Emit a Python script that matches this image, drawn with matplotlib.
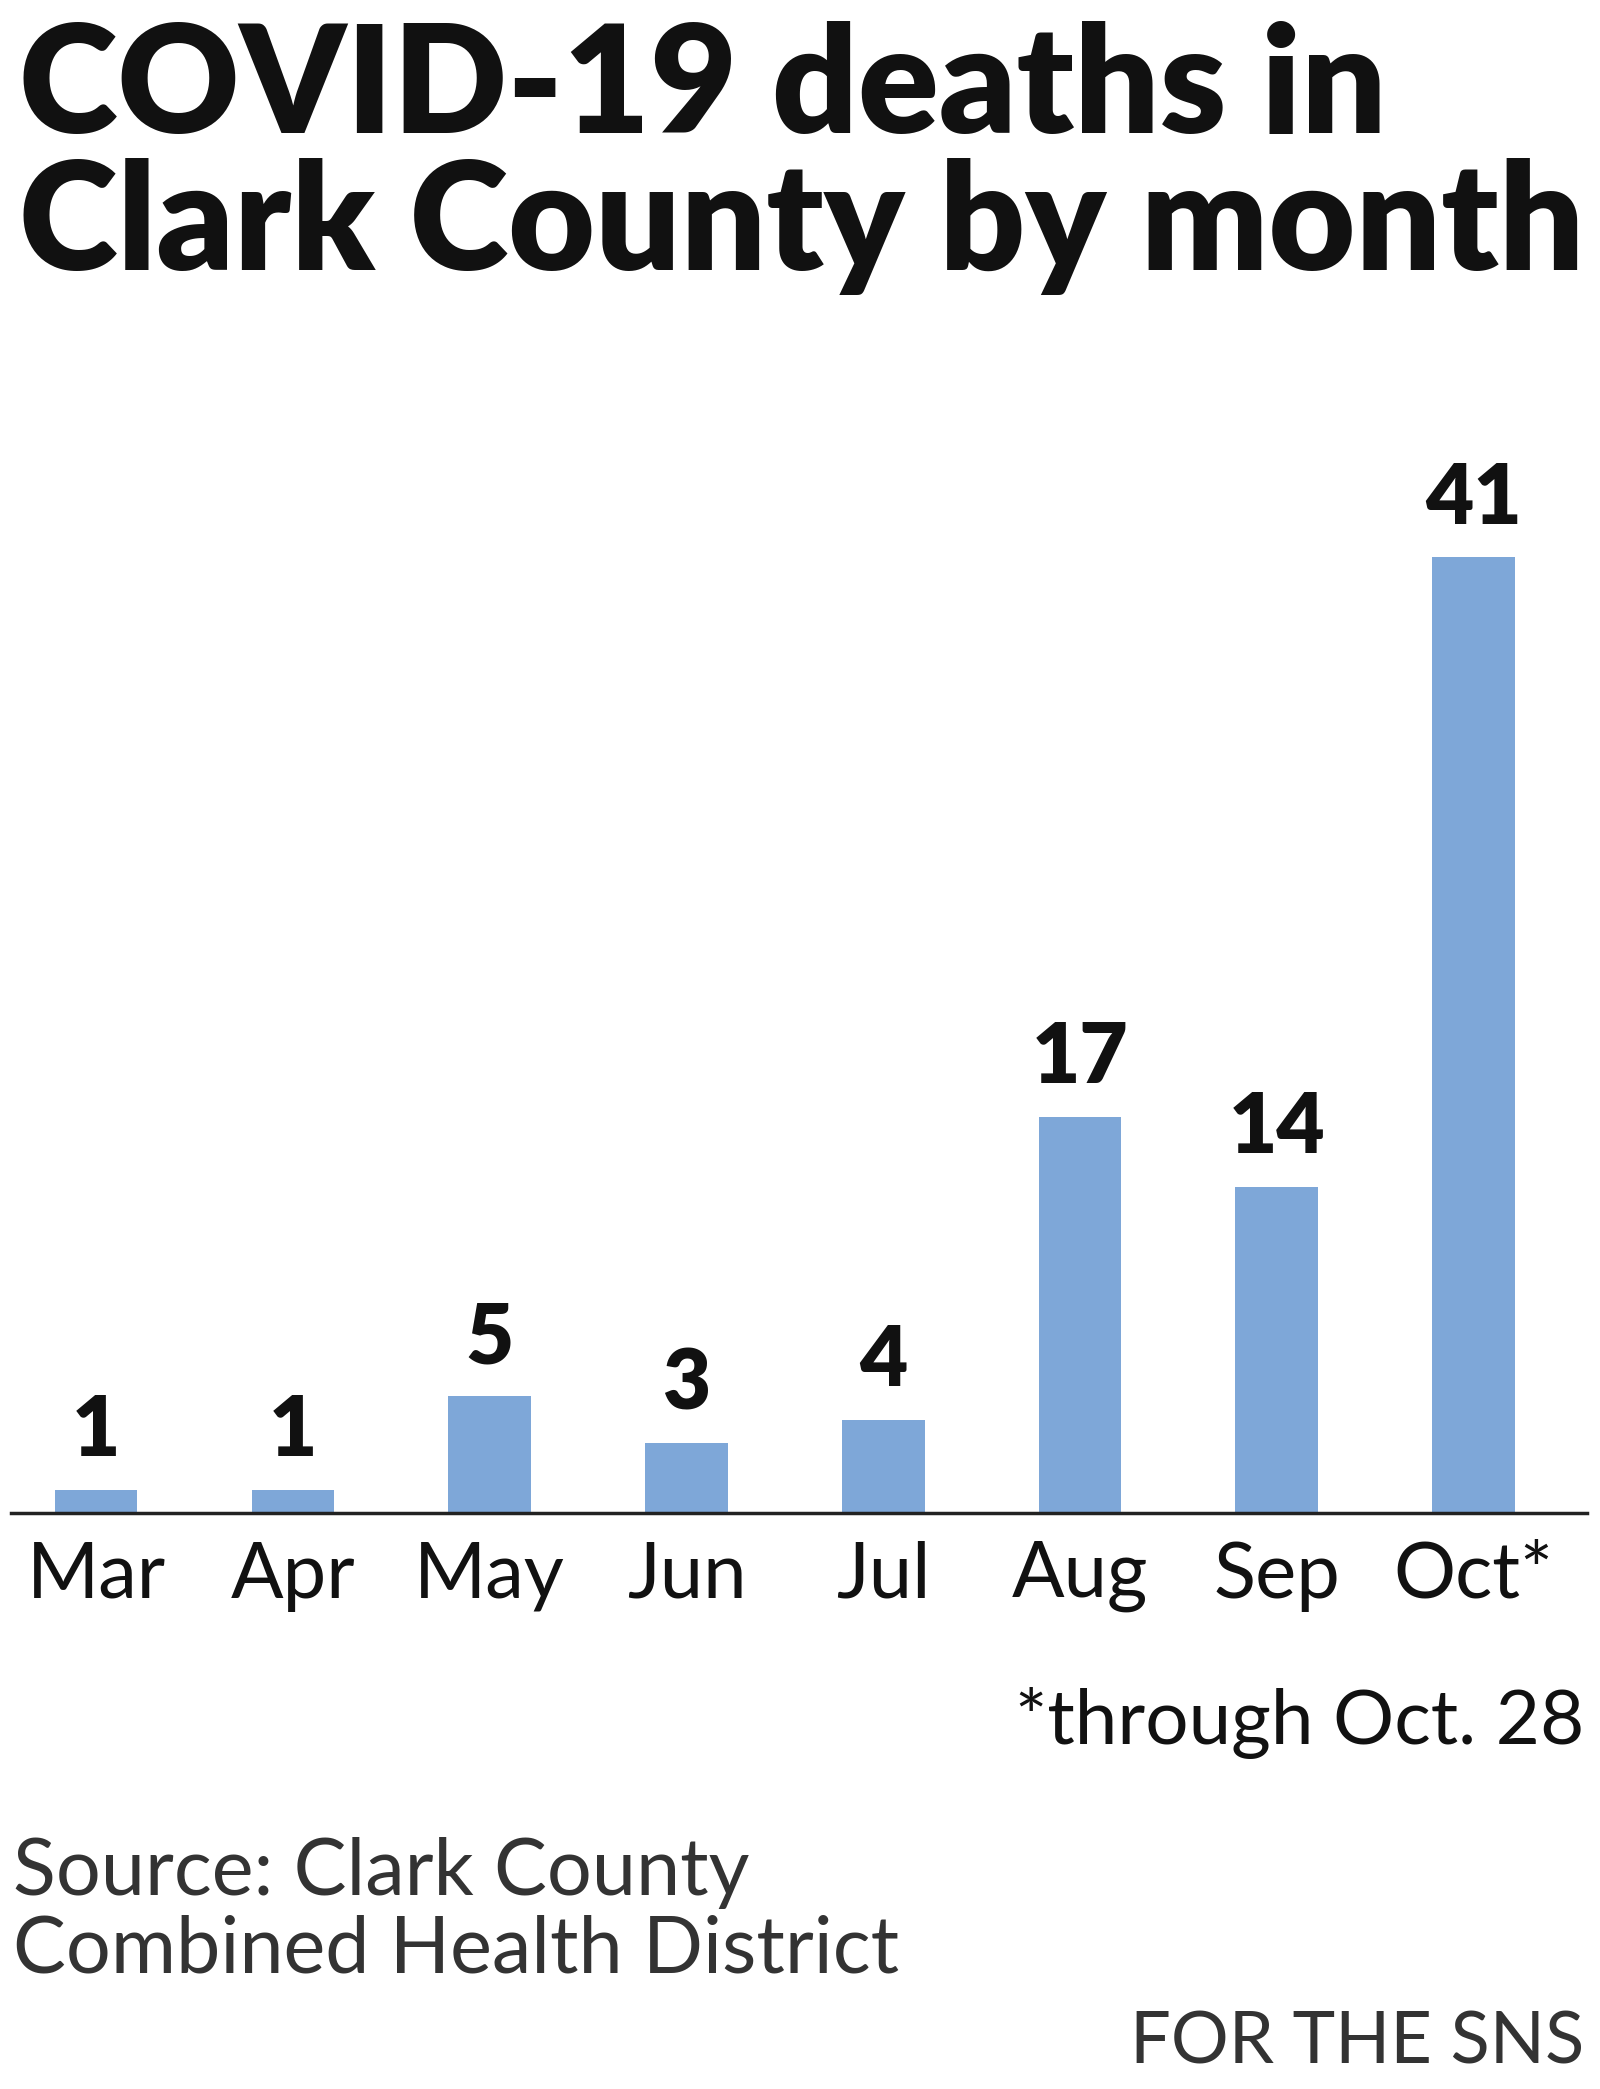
import matplotlib

matplotlib.use("Agg")
import matplotlib.pyplot as plt  # noqa: E402

# --- Data -------------------------------------------------------------
MONTHS = ["Mar", "Apr", "May", "Jun", "Jul", "Aug", "Sep", "Oct*"]
DEATHS = [1, 1, 5, 3, 4, 17, 14, 41]

BAR_COLOR = "#7ea7d8"
FONT = "Lato"

fig = plt.figure(figsize=(16, 20.89), dpi=100)

# chart area: baseline and top of tallest bar placed to match reference
ax = fig.add_axes([0.0067, 0.2757, 0.985, 0.4576])
x = list(range(len(MONTHS)))
ax.bar(x, DEATHS, width=0.42, color=BAR_COLOR, zorder=2)
ax.set_xlim(-0.434, 7.575)
ax.set_ylim(0, 41)
for side in ("top", "right", "left"):
    ax.spines[side].set_visible(False)
ax.spines["bottom"].set_linewidth(2.5)
ax.spines["bottom"].set_color("#222222")
ax.set_yticks([])
ax.set_xticks(x)
ax.set_xticklabels(MONTHS, fontsize=56, family=FONT, color="#111111")
ax.tick_params(axis="x", length=0, pad=20)

for xi, v in zip(x, DEATHS):
    ax.annotate(str(v), (xi, v), xytext=(0, 14), textcoords="offset points",
                ha="center", va="bottom", fontsize=60, fontweight="heavy",
                family=FONT, color="#111111")

fig.text(0.012, 0.99, "COVID-19 deaths in\nClark County by month",
         ha="left", va="top", fontsize=108, fontweight="heavy", family=FONT,
         linespacing=1.0, color="#111111")

fig.text(0.99, 0.175, "*through Oct. 28", ha="right", va="center",
         fontsize=55, family=FONT, color="#111111")
fig.text(0.008, 0.085, "Source: Clark County\nCombined Health District",
         ha="left", va="center", fontsize=57, family=FONT,
         linespacing=1.1, color="#333333")
fig.text(0.99, 0.022, "FOR THE SNS", ha="right", va="center",
         fontsize=52, family=FONT, color="#333333")

fig.savefig("out.png", dpi=100)
plt.close(fig)
